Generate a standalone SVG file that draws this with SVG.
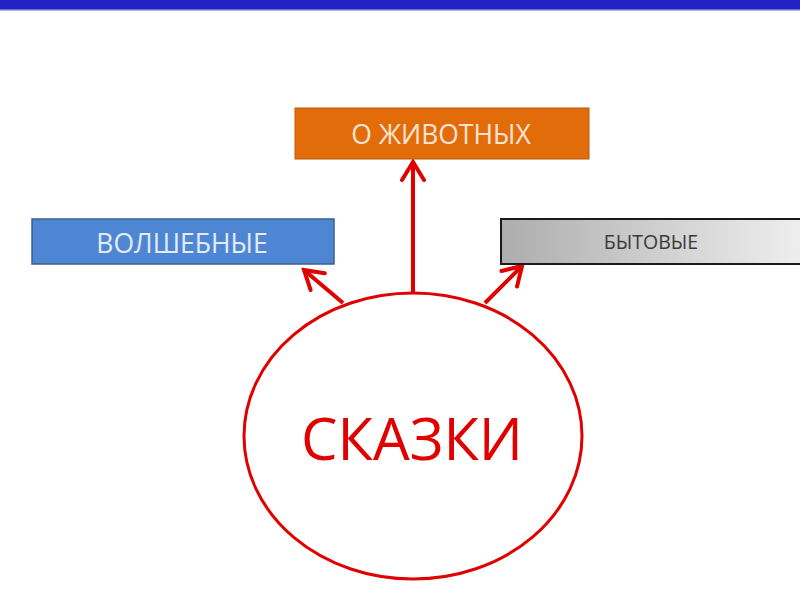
<svg xmlns="http://www.w3.org/2000/svg" width="800" height="600" viewBox="0 0 800 600">
<defs>
<linearGradient id="gray" x1="0" y1="0" x2="1" y2="0">
<stop offset="0" stop-color="#adadad"/>
<stop offset="1" stop-color="#eeeeee"/>
</linearGradient>
<marker id="arr" viewBox="0 0 24 28" refX="21" refY="14" markerWidth="24" markerHeight="28" markerUnits="userSpaceOnUse" orient="auto">
<path d="M3,3 L21,14 L3,25" fill="none" stroke="#e00000" stroke-width="4" stroke-linecap="round" stroke-linejoin="miter"/>
</marker>
<style>
.lbl{font-family:"Open Sans","Liberation Sans",sans-serif;text-anchor:middle}
.conn{stroke:#e00000;stroke-width:4;fill:none}
</style>
</defs>
<rect x="0" y="0" width="800" height="600" fill="#ffffff"/>
<rect x="0" y="0" width="800" height="9" fill="#2323c4"/>
<rect x="0" y="9" width="800" height="1.5" fill="#6a6ad8"/>
<g id="connectors">
<line class="conn" x1="413" y1="293" x2="413" y2="162" marker-end="url(#arr)"/>
<line class="conn" x1="343" y1="303" x2="304" y2="270" marker-end="url(#arr)"/>
<line class="conn" x1="485" y1="303" x2="522" y2="266" marker-end="url(#arr)"/>
</g>
<g id="animals">
<rect x="295" y="108" width="294" height="51" fill="#e36c0a" stroke="#b85a10" stroke-width="1"/>
<text class="lbl" x="441" y="144" font-size="26.5" fill="#fbe4d5">О ЖИВОТНЫХ</text>
</g>
<g id="magic">
<rect x="32" y="219" width="302" height="45" fill="#4f86d4" stroke="#3a5f8f" stroke-width="1.5"/>
<text class="lbl" x="182" y="253" font-size="26.5" fill="#e3ecf8">ВОЛШЕБНЫЕ</text>
</g>
<g id="everyday">
<rect x="501" y="219" width="300" height="45" fill="url(#gray)" stroke="#1a1a1a" stroke-width="2"/>
<text class="lbl" x="651" y="249" font-size="19.5" fill="#3a3a3a">БЫТОВЫЕ</text>
</g>
<g id="skazki">
<ellipse cx="413" cy="436" rx="169" ry="143" fill="#ffffff" stroke="#e00000" stroke-width="3"/>
<text class="lbl" x="412" y="460" font-size="58" fill="#e00000">СКАЗКИ</text>
</g>
</svg>
